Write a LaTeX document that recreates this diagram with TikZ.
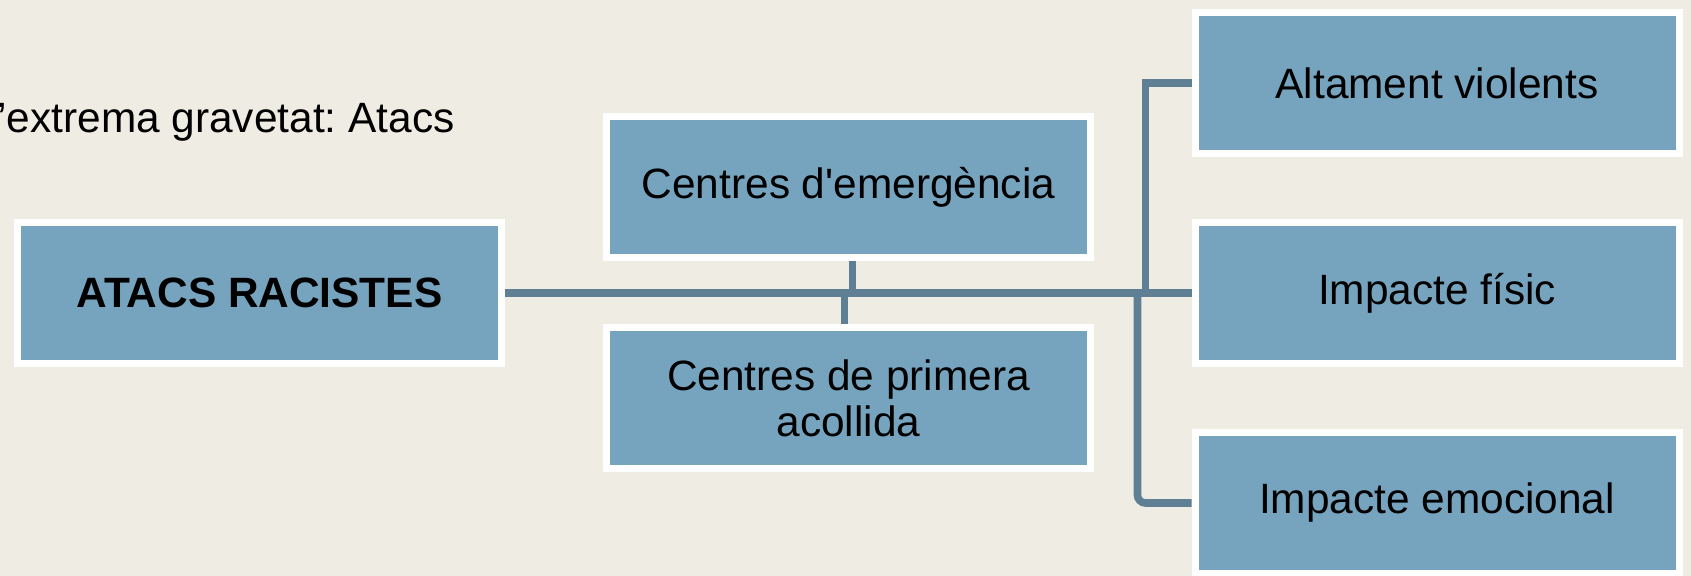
\documentclass[tikz,border=0pt]{standalone}
\usepackage{fontspec}
\setmainfont{Liberation Sans}
\usetikzlibrary{positioning}
\frenchspacing

\definecolor{bgbeige}{HTML}{EFECE4}
\definecolor{boxblue}{HTML}{76A3BD}
\definecolor{linkblue}{HTML}{5E7F94}

\tikzset{
  box/.style={draw=white, line width=3.5pt, fill=boxblue, minimum width=242pt, minimum height=70.5pt,
    inner sep=0pt, outer sep=1.75pt, align=center, font=\fontsize{21.2}{23}\selectfont},
  link/.style={draw=linkblue, line width=3.8pt}
}

\begin{document}
\begin{tikzpicture}[x=0.5pt, y=-0.5pt]
    % Background
    \fill[bgbeige] (0,0) rectangle (1691,576);
    \useasboundingbox (0,0) rectangle (1691,576);

    % Line of text cut at the left edge
    \node[anchor=base west, inner sep=0pt, font=\fontsize{21.2}{23}\selectfont] (gravetat) at (-3,133) {’extrema gravetat: Atacs};

    % Root and middle boxes
    \node[box, font=\fontsize{21.2}{23}\selectfont\bfseries] (atacs) at (259.5,293) {ATACS RACISTES};
    \node[box] (emergencia) at (848.5,187.5) {Centres d\textquotesingle emergència};
    \node[box] (acollida) at (848.5,398) {Centres de primera\\acollida};

    % Boxes on the right
    \foreach \n/\y/\t in {altament/83/Altament violents, fisic/293/Impacte físic, emocional/503/Impacte emocional} {
      \node[box] (\n) at (1437,\y) {\t};
    }

    % Connectors
    \draw[link] (atacs.east) -- (fisic.west);
    \draw[link] ([xshift=2pt]emergencia.south) -- ([xshift=2pt]emergencia.south |- atacs.east);
    \draw[link] ([xshift=-2pt]acollida.north) -- ([xshift=-2pt]acollida.north |- atacs.east);
    \draw[link] (altament.west) -| ([xshift=-23pt]fisic.west);
    \draw[link, rounded corners=4pt] (emocional.west) -| ([xshift=-27pt]fisic.west);
\end{tikzpicture}
\end{document}
